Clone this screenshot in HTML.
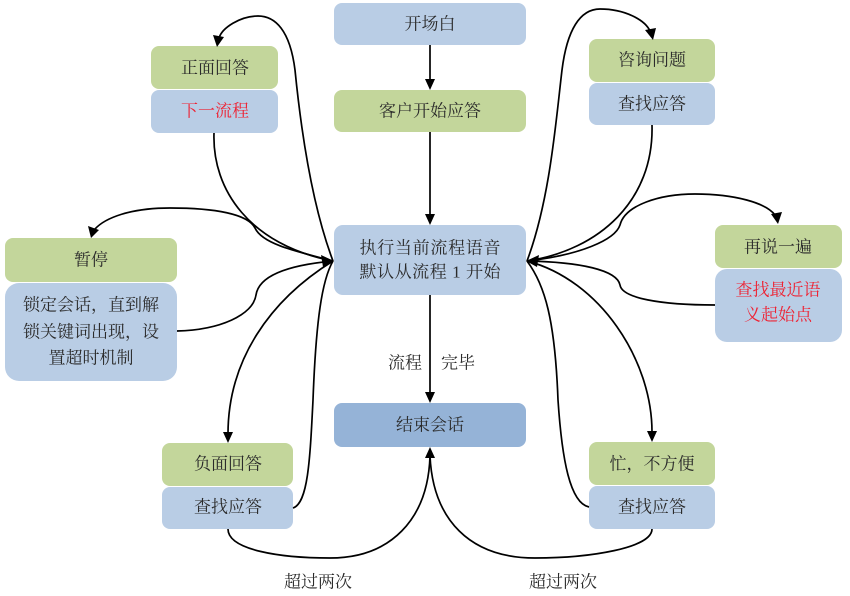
<!DOCTYPE html>
<html>
<head>
<meta charset="utf-8">
<style>
html,body{margin:0;padding:0;background:#fff;}
svg{display:block;}
text{font-family:"Liberation Serif","Noto Serif CJK SC",serif;font-size:17px;fill:#2b2b2b;}
.r{fill:#ee2233;}
</style>
</head>
<body>
<svg width="850" height="596" viewBox="0 0 850 596" xmlns="http://www.w3.org/2000/svg">
<!-- boxes -->
<g>
<rect x="334" y="3" width="192" height="42" rx="8" fill="#b9cde5"/>
<rect x="334" y="90" width="192" height="42" rx="8" fill="#c3d69b"/>
<rect x="334" y="225" width="192" height="70" rx="9" fill="#b9cde5"/>
<rect x="334" y="403" width="192" height="44" rx="8" fill="#95b3d7"/>

<rect x="151" y="46" width="127" height="43" rx="8" fill="#c3d69b"/>
<rect x="151" y="90" width="127" height="43" rx="8" fill="#b9cde5"/>

<rect x="589" y="39" width="126" height="43" rx="8" fill="#c3d69b"/>
<rect x="589" y="83" width="126" height="42" rx="8" fill="#b9cde5"/>

<rect x="715" y="225" width="127" height="43" rx="8" fill="#c3d69b"/>
<rect x="715" y="269" width="127" height="73" rx="12" fill="#b9cde5"/>

<rect x="5" y="238" width="172" height="44" rx="8" fill="#c3d69b"/>
<rect x="5" y="283" width="172" height="98" rx="14" fill="#b9cde5"/>

<rect x="162" y="443" width="131" height="43" rx="8" fill="#c3d69b"/>
<rect x="162" y="487" width="131" height="42" rx="8" fill="#b9cde5"/>

<rect x="589" y="442" width="126" height="43" rx="8" fill="#c3d69b"/>
<rect x="589" y="486" width="126" height="43" rx="8" fill="#b9cde5"/>
</g>

<!-- texts -->
<g text-anchor="middle" dominant-baseline="central">
<text x="430" y="24">开场白</text>
<text x="430" y="111">客户开始应答</text>
<text x="430" y="248" textLength="141" lengthAdjust="spacing">执行当前流程语音</text>
<text x="430" y="272" textLength="141" lengthAdjust="spacing">默认从流程 1 开始</text>
<text x="430" y="425">结束会话</text>

<text x="215" y="68">正面回答</text>
<text x="215" y="111" class="r">下一流程</text>

<text x="652" y="60">咨询问题</text>
<text x="652" y="104">查找应答</text>

<text x="778" y="247">再说一遍</text>
<text x="778" y="290" class="r">查找最近语</text>
<text x="778" y="315" class="r">义起始点</text>

<text x="91" y="260">暂停</text>
<text x="91" y="305">锁定会话，直到解</text>
<text x="91" y="332">锁关键词出现，设</text>
<text x="91" y="358">置超时机制</text>

<text x="228" y="464">负面回答</text>
<text x="228" y="507">查找应答</text>

<text x="652" y="464">忙，不方便</text>
<text x="652" y="507">查找应答</text>

<text x="405" y="363">流程</text>
<text x="458" y="363">完毕</text>

<text x="318" y="582">超过两次</text>
<text x="563" y="582">超过两次</text>
</g>

<!-- connectors -->
<g fill="none" stroke="#000" stroke-width="1.7">
<line x1="430" y1="45" x2="430" y2="82"/>
<line x1="430" y1="132" x2="430" y2="216"/>
<line x1="430" y1="295" x2="430" y2="394"/>

<!-- left side -->
<path d="M 333 261 C 310 200, 300 120, 295 70 C 290 30, 275 16, 258 16 C 240 16, 222 28, 219 38"/>
<path d="M 214 133 C 212 190, 250 245, 333 261"/>
<path d="M 333 261 C 290 250, 262 243, 255 228 C 248 214, 215 208, 170 208 C 130 208, 105 218, 95 229"/>
<path d="M 177 331 C 220 330, 253 315, 256 295 C 259 275, 290 265, 333 261"/>
<path d="M 333 261 C 270 300, 228 360, 228 434"/>
<path d="M 293 508 C 308 503, 310 460, 313 400 C 316 320, 322 280, 333 261"/>
<path d="M 228 529 C 228 550, 280 558, 330 558 C 390 558, 428 520, 430 456"/>

<!-- right side -->
<path d="M 527 261 C 550 200, 556 120, 562 70 C 567 30, 580 9, 600 9 C 625 9, 645 20, 650 31"/>
<path d="M 652 125 C 654 200, 600 250, 527 261"/>
<path d="M 527 261 C 580 255, 615 240, 620 225 C 625 205, 660 194, 695 194 C 735 194, 766 203, 775 215"/>
<path d="M 715 305 C 660 305, 622 298, 620 285 C 617 270, 580 262, 527 261"/>
<path d="M 527 261 C 600 280, 652 360, 652 432"/>
<path d="M 589 507 C 570 503, 562 460, 558 400 C 555 320, 545 285, 527 261"/>
<path d="M 652 529 C 652 548, 590 558, 535 558 C 470 558, 433 520, 430 456"/>
</g>

<!-- arrowheads -->
<g fill="#000">
<polygon points="425,79 435,79 430,90"/>
<polygon points="425,214 435,214 430,225"/>
<polygon points="425,392 435,392 430,403"/>
<polygon points="425,458 435,458 430,447"/>

<polygon points="213,35 224,37 217,47"/>
<polygon points="645,30 656,28 653,40"/>
<polygon points="88,226 99,230 91,238"/>
<polygon points="771,214 782,212 778,224"/>
<polygon points="223,432 233,432 228,443"/>
<polygon points="647,431 657,431 652,442"/>

<polygon points="321,255 323,267 334,261"/>
<polygon points="539,255 537,267 526,261"/>
</g>
</svg>
</body>
</html>
